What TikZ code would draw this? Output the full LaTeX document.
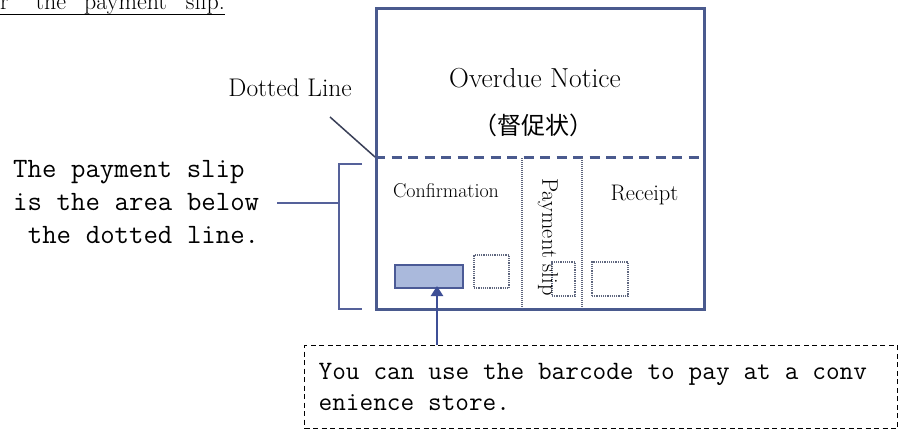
\documentclass[tikz,border=0pt]{standalone}
\usepackage{fontspec}
\newfontfamily\cjkfont{Noto Sans CJK JP}
\usetikzlibrary{arrows.meta}
\definecolor{framecol}{HTML}{4A5A8E}
\definecolor{bracketcol}{HTML}{55619A}
\definecolor{dotcol}{HTML}{5E667E}
\definecolor{barfill}{HTML}{AAB9DC}
\definecolor{barline}{HTML}{4B5A96}
\definecolor{arrowcol}{HTML}{3E4F96}
\definecolor{slashcol}{HTML}{3A4058}
\newcommand{\monospaces}{\spaceskip=0.525em\relax\xspaceskip=0.525em\relax}
\begin{document}
\begin{tikzpicture}[x=1pt,y=-1pt,
  frame/.style={draw=framecol, line width=2.6pt, inner sep=0pt},
  cutline/.style={draw=framecol, line width=3pt, dash pattern=on 10pt off 6.5pt},
  dotline/.style={draw=dotcol, line width=1.1pt, dash pattern=on 1pt off 1pt},
  dotbox/.style={draw=dotcol, line width=1.3pt, dash pattern=on 1.2pt off 1pt, inner sep=0pt},
  bracketline/.style={draw=bracketcol, line width=2.2pt},
  serif/.style={inner sep=0pt, text=black},
  mono/.style={inner sep=0pt, font=\ttfamily\fontsize{28}{33}\selectfont\monospaces, align=left},
  notebox/.style={draw=black, line width=1.4pt, dash pattern=on 5pt off 3.5pt,
    font=\ttfamily\fontsize{26.5}{31}\selectfont, align=left, text width=565pt,
    inner xsep=14pt, inner ysep=0pt, minimum height=83pt},
  barcode/.style={draw=barline, fill=barfill, line width=2pt, inner sep=0pt},
  pointer/.style={draw=arrowcol, line width=2.4pt, -{Triangle[width=12pt,length=10pt]}}
]
\fill[white] (0,0) rectangle (903,432);
\useasboundingbox (0,0) rectangle (903,432);

% title (cut off at the top)
\node[serif, anchor=base west, font=\fontsize{24}{28}\selectfont] (title) at (0,9.5)
  {r\hspace{27pt}the\hspace{18pt}payment\hspace{19pt}slip.};
\draw[line width=1pt] (title.south west) -- (title.south east);

% overdue notice frame
\node[frame, anchor=north west, minimum width=328pt, minimum height=301pt] (notice) at (375,7) {};
\coordinate (dl) at (375,157);
\coordinate (dr) at (703,157);
\draw[cutline] (dl) -- (dr);

% dotted column separators
\coordinate (v1t) at (522,158); \coordinate (v1b) at (522,307);
\coordinate (v2t) at (582,158); \coordinate (v2b) at (582,307);
\draw[dotline] (v1t) -- (v1b);
\draw[dotline] (v2t) -- (v2b);

% texts inside the frame
\node[serif, anchor=base, font=\fontsize{27.5}{32}\selectfont] (overdue) at (535,87) {Overdue Notice};
\node[serif, anchor=base, font=\cjkfont\fontsize{24}{28}\selectfont] (jp) at (533.5,134) {（督促状）};
\node[serif, anchor=base, font=\fontsize{20}{24}\selectfont] (confirm) at (446,197) {Confirmation};
\node[serif, anchor=base, font=\fontsize{22.5}{26}\selectfont] (receipt) at (644.5,200) {Receipt};

% small boxes
\node[barcode, minimum width=68pt, minimum height=23pt] (bar) at (429,276.5) {};
\node[dotbox, minimum width=35pt, minimum height=33pt] (sq1) at (491.5,271.5) {};
\node[dotbox, minimum width=23pt, minimum height=34pt] (sq2) at (563.5,279) {};
\node[dotbox, minimum width=36pt, minimum height=34pt] (sq3) at (610,279) {};

\node[serif, rotate=-90, font=\fontsize{22.5}{26}\selectfont] (payslip) at (548,237) {Payment slip};

% dotted line label and pointer
\node[serif, anchor=base east, font=\fontsize{25.5}{30}\selectfont] (dotlabel) at (352,96) {Dotted Line};
\coordinate (slashstart) at (330,117);
\draw[draw=slashcol, line width=1.5pt] (slashstart) -- (dl);

% bracket and left explanation
\coordinate (bt) at (362,164);
\coordinate (bb) at (362,309);
\coordinate (bm) at (339,203);
\draw[bracketline] (bt) -- (339,164) -- (339,309) -- (bb);
\node[mono, anchor=base west] (leftnote) at (13,243)
  {The payment slip\\is the area below\\\hspace*{0.525em}the dotted line.};
\coordinate (armstart) at (277,203);
\draw[bracketline] (armstart) -- (bm);

% bottom note and arrow
\node[notebox, anchor=north west] (note) at (304,345)
  {\monospaces You can use the barcode to pay at a conv\\enience store.};
\coordinate (ax) at (437,0);
\draw[pointer, shorten >=-3pt] (note.north -| ax) -- (bar.south -| ax);
\end{tikzpicture}
\end{document}
